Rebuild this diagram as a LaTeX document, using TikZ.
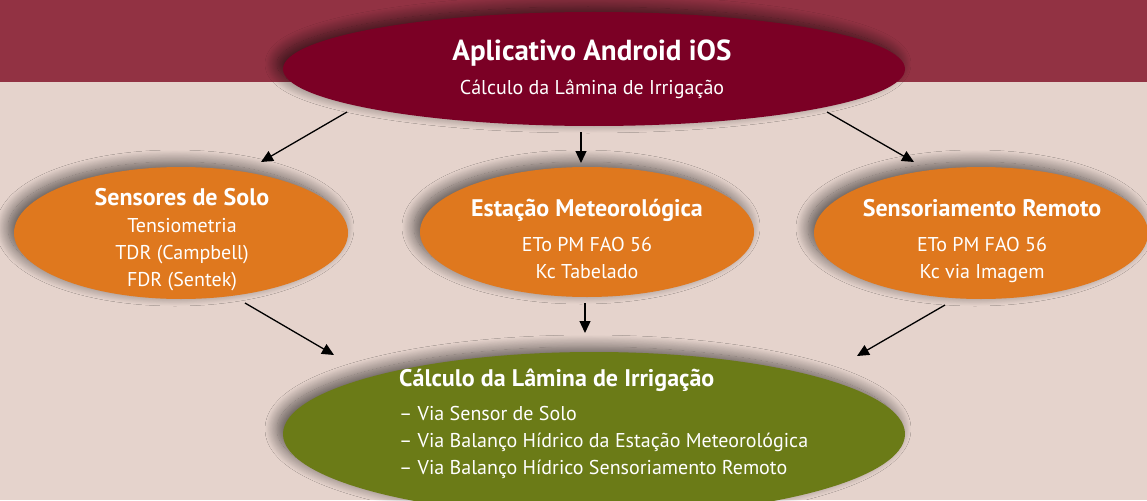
\documentclass[tikz,border=0pt]{standalone}
\usepackage{fontspec}
\setmainfont{PT Sans}
\usetikzlibrary{shapes.geometric,arrows.meta,shadows.blur}
\definecolor{bandred}{HTML}{923243}
\definecolor{bgpink}{HTML}{E5D3CC}
\definecolor{wine}{HTML}{7B0025}
\definecolor{orng}{HTML}{DF781E}
\definecolor{olive}{HTML}{6B7B17}
\tikzset{
  oval/.style={ellipse, inner sep=0pt, draw=none,
    blur shadow={shadow xshift=-6pt, shadow yshift=5pt, shadow blur radius=12pt, shadow opacity=60, shadow blur steps=20}},
  txt/.style={text=white, inner sep=0pt, anchor=base},
  ttl/.style={txt, font=\bfseries\fontsize{24}{27}\selectfont},
  body/.style={txt, font=\fontsize{20}{27}\selectfont, align=center},
  arr/.style={-{Triangle[length=12pt,width=11pt]}, line width=1.3pt, black},
}
\begin{document}
\begin{tikzpicture}[x=1pt,y=-1pt]
\fill[bgpink] (0,0) rectangle (1147,500);
\useasboundingbox (0,0) rectangle (1147,500);
\fill[bandred] (0,0) rectangle (1147,82);

\node[oval, fill=wine, minimum width=622pt, minimum height=114pt] (app) at (594,69) {};
\node[oval, fill=orng, minimum width=334pt, minimum height=132pt] (solo) at (181,233) {};
\node[oval, fill=orng, minimum width=334pt, minimum height=130pt] (est) at (587,232) {};
\node[oval, fill=orng, minimum width=334pt, minimum height=132pt] (sens) at (981,233) {};
\node[oval, fill=olive, minimum width=622pt, minimum height=164pt] (calc) at (594,434) {};

\node[txt, font=\bfseries\fontsize{29}{32}\selectfont] (appT) at (592,61) {Aplicativo Android iOS};
\node[txt, font=\fontsize{20}{27}\selectfont] (appS) at (592,95) {Cálculo da Lâmina de Irrigação};

\node[ttl] (soloT) at (182,205) {Sensores de Solo};
\node[body] (soloB1) at (182,232) {Tensiometria};
\node[body] (soloB2) at (182,259) {TDR (Campbell)};
\node[body] (soloB3) at (182,286) {FDR (Sentek)};

\node[ttl] (estT) at (587,216) {Estação Meteorológica};
\node[body] (estB1) at (587,251) {ETo PM FAO 56};
\node[body] (estB2) at (587,278) {Kc Tabelado};

\node[ttl] (sensT) at (982,216) {Sensoriamento Remoto};
\node[body] (sensB1) at (982,251) {ETo PM FAO 56};
\node[body] (sensB2) at (982,278) {Kc via Imagem};

\node[ttl, anchor=base west] (calcT) at (399,386) {Cálculo da Lâmina de Irrigação};
\node[body, anchor=base west] (calcB1) at (399,420) {– Via Sensor de Solo};
\node[body, anchor=base west] (calcB2) at (399,447) {– Via Balanço Hídrico da Estação Meteorológica};
\node[body, anchor=base west] (calcB3) at (399,474) {– Via Balanço Hídrico Sensoriamento Remoto};

\coordinate (a1s) at (347,112); \coordinate (a1e) at (261,162);
\coordinate (a2s) at (581,132); \coordinate (a2e) at (581,163);
\coordinate (a3s) at (827,112); \coordinate (a3e) at (914,162);
\coordinate (a4s) at (245,303); \coordinate (a4e) at (334,355);
\coordinate (a5s) at (585,303); \coordinate (a5e) at (585,333);
\coordinate (a6s) at (945,305); \coordinate (a6e) at (857,356);
\draw[arr] (a1s) -- (a1e);
\draw[arr] (a2s) -- (a2e);
\draw[arr] (a3s) -- (a3e);
\draw[arr] (a4s) -- (a4e);
\draw[arr] (a5s) -- (a5e);
\draw[arr] (a6s) -- (a6e);
\end{tikzpicture}
\end{document}
